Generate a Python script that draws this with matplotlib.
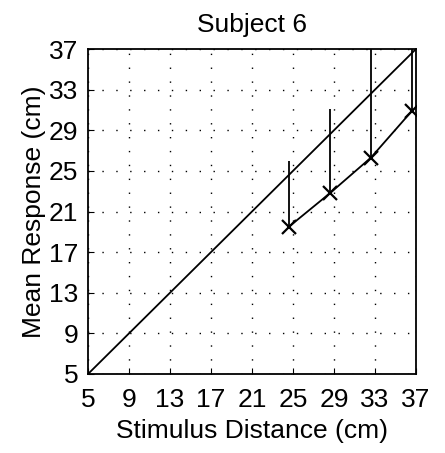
import numpy as np
import matplotlib
matplotlib.use("Agg")
import matplotlib.pyplot as plt

plt.rcParams['font.family'] = ['Liberation Sans', 'DejaVu Sans']

# stimulus distances and mean responses (cm)
stim = [24.6, 28.6, 32.6, 36.6]
resp = [19.5, 22.8, 26.3, 30.9]
err_up = [6.5, 8.3, 11.5, 8.0]
err_lo = [0, 0, 0, 0]
ticks = [5, 9, 13, 17, 21, 25, 29, 33, 37]

fig = plt.figure(figsize=(4.45, 4.53), dpi=100)
ax = fig.add_axes([0.1978, 0.1744, 0.737, 0.7174])

ax.plot([ticks[0], ticks[-1]], [ticks[0], ticks[-1]], color='k', lw=1.3)
ax.errorbar(stim, resp, yerr=[err_lo, err_up], color='k', lw=1.3,
            marker='x', ms=10, mew=1.6, capsize=0, elinewidth=1.3)

ax.set_xlim(5, 37)
ax.set_ylim(5, 37)
ax.set_xticks(ticks)
ax.set_yticks(ticks)
ax.grid(True, color='k', linestyle=(0, (1, 9)), lw=1.0)
ax.tick_params(direction='in', length=4, labelsize=19)
ax.tick_params(axis='x', pad=10)
ax.tick_params(axis='y', pad=7)
for s in ax.spines.values():
    s.set_linewidth(1.3)

ax.set_title("Subject 6", fontsize=19, pad=12)
ax.set_xlabel("Stimulus Distance (cm)", fontsize=19, labelpad=5)
ax.set_ylabel("Mean Response (cm)", fontsize=19, labelpad=2)

fig.savefig("out.png", dpi=100)
